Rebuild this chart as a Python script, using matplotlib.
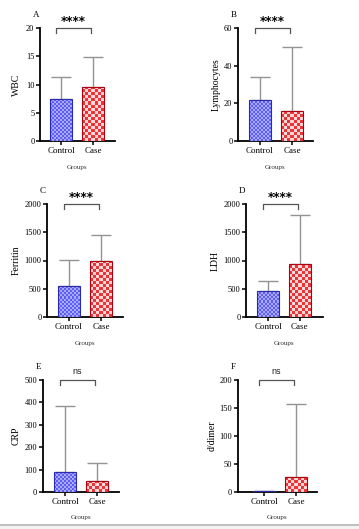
import numpy as np
import matplotlib
matplotlib.use("Agg")
import matplotlib.pyplot as plt
from matplotlib.lines import Line2D
from matplotlib.patches import Rectangle

# ---------------- data ----------------
groups = ["Control", "Case"]

wbc_mean = [7.4, 9.6]
wbc_sd = [3.9, 5.2]

lym_mean = [21.7, 15.7]
lym_sd = [12.5, 34.3]

ferritin_mean = [552, 985]
ferritin_sd = [465, 475]

ldh_mean = [462, 941]
ldh_sd = [175, 862]

crp_mean = [89, 49]
crp_sd = [296, 82]

ddimer_mean = [1.2, 26]
ddimer_sd = [1.0, 132]

panel_letters = ["A", "B", "C", "D", "E", "F"]
ylabels = ["WBC", "Lymphocytes", "Ferritin", "LDH", "CRP", "d/dimer"]
significance = ["****", "****", "****", "****", "ns", "ns"]
ymax = [20, 60, 2000, 2000, 500, 200]
ystep = [5, 20, 500, 500, 100, 50]
xlabel = "Groups"

means = [wbc_mean, lym_mean, ferritin_mean, ldh_mean, crp_mean, ddimer_mean]
sds = [wbc_sd, lym_sd, ferritin_sd, ldh_sd, crp_sd, ddimer_sd]

# ---------------- layout (pixels) ----------------
W, H = 359, 529
# left spine, right end, top, bottom, control center, case center, ylabel x
boxes = [
    (40, 115, 28, 141, 61, 93, 16),
    (238, 313, 28, 141, 259.5, 292, 216),
    (47, 123, 204, 317, 68.5, 101, 16),
    (246, 323, 204, 317, 268, 299.5, 215),
    (42.7, 119, 380, 492, 65, 97, 16),
    (237.7, 317, 380, 492, 264, 296, 212),
]
BAR_PX = 22

serif = "Liberation Serif"
sans = "Liberation Sans"

fig = plt.figure(figsize=(W / 100, H / 100), dpi=100)
fig.patch.set_facecolor("white")


def fx(x):
    return x / W


def fy(y):
    return 1 - y / H


colors = [("#5e5ef2", "#a9a9ff", 2, "#2a2ab0"), ("#e8353a", "#ffd6d6", 3, "#b00010")]


def checker(c1, c2, nx, ny):
    a = np.array(matplotlib.colors.to_rgb(c1))
    b = np.array(matplotlib.colors.to_rgb(c2))
    ii, jj = np.meshgrid(np.arange(nx), np.arange(ny))
    m = ((ii + jj) % 2)[..., None]
    return a * (1 - m) + b * m


for k in range(6):
    L, R, T, B, c0, c1, ylx = boxes[k]
    u = c1 - c0
    ax = fig.add_axes([fx(L), fy(B), fx(R - L), (B - T) / H])
    x = np.arange(len(groups))
    ax.set_xlim(-(c0 - L) / u, 1 + (R - c1) / u)
    ax.set_ylim(0, ymax[k])
    width = BAR_PX / u
    m = means[k]
    s = sds[k]
    ax.errorbar(x, m, yerr=[[0, 0], s], fmt="none", ecolor="#939393",
                elinewidth=1.0, capsize=7, capthick=1.0, zorder=1)
    bars = ax.bar(x, m, width=width, color=[c[0] for c in colors], zorder=2,
                  linewidth=0)
    ypx = (B - T) / ymax[k]
    for i, bar in enumerate(bars):
        base, light, cell, edge = colors[i]
        h_px = m[i] * ypx
        nx = max(1, int(round(BAR_PX / cell)))
        ny = max(1, int(np.ceil(h_px / cell)))
        img = checker(base, light, nx, ny)
        x0 = bar.get_x()
        im = ax.imshow(img, extent=(x0, x0 + width, 0, ny * cell / ypx),
                       aspect="auto", interpolation="nearest", zorder=3,
                       origin="lower")
        im.set_clip_path(bar)
        ax.bar(x[i], m[i], width=width, fill=False, edgecolor=edge,
               linewidth=0.8, zorder=4)

    for sp in ["top", "right"]:
        ax.spines[sp].set_visible(False)
    for sp in ["left", "bottom"]:
        ax.spines[sp].set_linewidth(1.3)
    ax.set_yticks(np.arange(0, ymax[k] + ystep[k] / 2, ystep[k]))
    ax.set_xticks(x)
    ax.set_xticklabels(groups, fontfamily=serif, fontsize=6.5)
    for lab in ax.get_yticklabels():
        lab.set_fontfamily(serif)
        lab.set_fontsize(6)
    ax.tick_params(axis="y", length=2.8, width=1.1, pad=1.2)
    ax.tick_params(axis="x", length=2.8, width=1.1, pad=1.5)
    ax.set_facecolor("none")

    # significance bracket
    xa = 0 - 5 / u
    xb = 1 - 2 / u
    top = ymax[k]
    drop = 5 / ypx
    ax.plot([xa, xa, xb, xb], [top - drop, top, top, top - drop],
            color="#555555", lw=0.9, clip_on=False, zorder=5)
    if significance[k] == "ns":
        ax.text((xa + xb) / 2, top + 8 / ypx, significance[k], ha="center",
                va="center", fontsize=6.5, fontfamily=sans, color="#222222")
    else:
        ax.text((xa + xb) / 2, top + 6 / ypx, significance[k], ha="center",
                va="center", fontsize=8.5, fontweight="bold", color="black",
                fontfamily="DejaVu Sans")

    # panel letter, y label, x label
    fig.text(fx(L - 4), fy(T - 13), panel_letters[k], fontsize=6.5,
             fontfamily=serif, ha="center", va="center")
    fig.text(fx(ylx), fy((T + B) / 2), ylabels[k], fontsize=7,
             fontfamily=serif, ha="center", va="center", rotation=90)
    fig.text(fx((L + R) / 2), fy(B + 26), xlabel, fontsize=5,
             fontfamily=serif, ha="center", va="center", color="#333333")

# bottom separator
fig.add_artist(Rectangle((0, 0), 1, 1 - 525 / H, transform=fig.transFigure,
                         facecolor="#f3f3f3", edgecolor="none"))
fig.add_artist(Line2D([0, 1], [fy(525), fy(525)], transform=fig.transFigure,
                      color="#b5b5b5", lw=1.2))

fig.savefig("out.png", dpi=100)
